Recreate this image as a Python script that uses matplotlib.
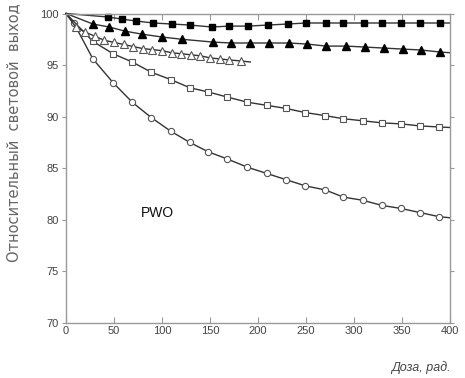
import matplotlib
matplotlib.use("Agg")
import matplotlib.pyplot as plt

plt.rcParams["font.family"] = ["Liberation Sans", "DejaVu Sans"]

# Dose values (rad) and relative light output (%) for each sample
dose_circ = [0, 8, 28, 49, 69, 89, 109, 129, 148, 168, 189, 209, 229, 249, 270, 289, 309, 329, 349, 369, 389, 400]
out_circ = [100, 99.1, 95.6, 93.3, 91.4, 89.9, 88.6, 87.5, 86.6, 85.9, 85.1, 84.5, 83.9, 83.3, 82.9, 82.2, 81.9, 81.4, 81.1, 80.7, 80.3, 80.2]

dose_osq = [0, 28, 49, 69, 89, 109, 129, 148, 168, 189, 209, 229, 249, 270, 289, 309, 329, 349, 369, 389, 400]
out_osq = [100, 97.3, 96.1, 95.3, 94.3, 93.6, 92.8, 92.4, 91.9, 91.4, 91.1, 90.8, 90.4, 90.1, 89.8, 89.6, 89.4, 89.3, 89.1, 89.0, 88.95]

dose_otri = [0, 10, 20, 30, 40, 50, 60, 70, 80, 90, 100, 110, 120, 130, 140, 150, 160, 170, 182, 192]
out_otri = [100, 98.7, 98.2, 97.8, 97.4, 97.2, 97.0, 96.8, 96.6, 96.5, 96.4, 96.2, 96.1, 96.0, 95.9, 95.7, 95.6, 95.5, 95.4, 95.3]

dose_ftri = [0, 28, 45, 61, 79, 100, 121, 153, 172, 192, 211, 232, 251, 271, 292, 311, 331, 351, 370, 390, 400]
out_ftri = [100, 98.98, 98.69, 98.3, 98.0, 97.72, 97.5, 97.23, 97.14, 97.14, 97.14, 97.14, 97.04, 96.84, 96.84, 96.75, 96.65, 96.55, 96.46, 96.26, 96.2]

dose_fsq = [0, 44, 58, 73, 91, 110, 129, 152, 170, 190, 210, 231, 250, 271, 289, 310, 329, 349, 369, 390, 400]
out_fsq = [100, 99.66, 99.46, 99.27, 99.08, 98.98, 98.88, 98.69, 98.78, 98.78, 98.88, 98.98, 99.08, 99.08, 99.08, 99.08, 99.08, 99.08, 99.08, 99.08, 99.08]

x_ticks = [0, 50, 100, 150, 200, 250, 300, 350, 400]
y_ticks = [70, 75, 80, 85, 90, 95, 100]

fig = plt.figure(figsize=(4.65, 3.78), dpi=100)
ax = fig.add_axes([66 / 465, 1 - 323 / 378, 384 / 465, 309.5 / 378])

line_kw = dict(color="#333333", lw=1.0, clip_on=False)


def inner(seq):
    return list(range(1, len(seq) - 1))


ax.plot(dose_circ, out_circ, marker="o", ms=4.5, mfc="white", mec="#555555", mew=0.8,
        markevery=inner(dose_circ), **line_kw)
ax.plot(dose_osq, out_osq, marker="s", ms=4.8, mfc="white", mec="#555555", mew=0.8,
        markevery=inner(dose_osq), **line_kw)
ax.plot(dose_otri, out_otri, marker="^", ms=5.5, mfc="white", mec="#555555", mew=0.8,
        markevery=inner(dose_otri), **line_kw)
ax.plot(dose_ftri, out_ftri, marker="^", ms=5.5, mfc="black", mec="black",
        markevery=inner(dose_ftri), **line_kw)
ax.plot(dose_fsq, out_fsq, marker="s", ms=4.3, mfc="black", mec="black",
        markevery=inner(dose_fsq), **line_kw)

ax.set_xlim(0, 400)
ax.set_ylim(70, 100)
ax.set_xticks(x_ticks)
ax.set_yticks(y_ticks)
for s in ax.spines.values():
    s.set_color("#999999")
    s.set_linewidth(1.0)
ax.tick_params(axis="both", which="both", direction="in", length=4, color="#999999",
               labelsize=8, labelcolor="#444444", top=True, right=True, pad=2)
ax.tick_params(axis="y", direction="out", length=3)

ax.text(95, 80.7, "PWO", fontsize=10, ha="center", va="center", color="#111111")

fig.text(14 / 465, 1 - 262 / 378, "Относительный  световой  выход", rotation=90,
         ha="center", va="bottom", fontsize=10.5, color="#666666",
         family=["DejaVu Sans"])
fig.text(421 / 465, 1 - 368 / 378, "Доза, рад.", style="italic", ha="center", va="center",
         fontsize=9, color="#444444")

fig.savefig("out.png", dpi=100)
